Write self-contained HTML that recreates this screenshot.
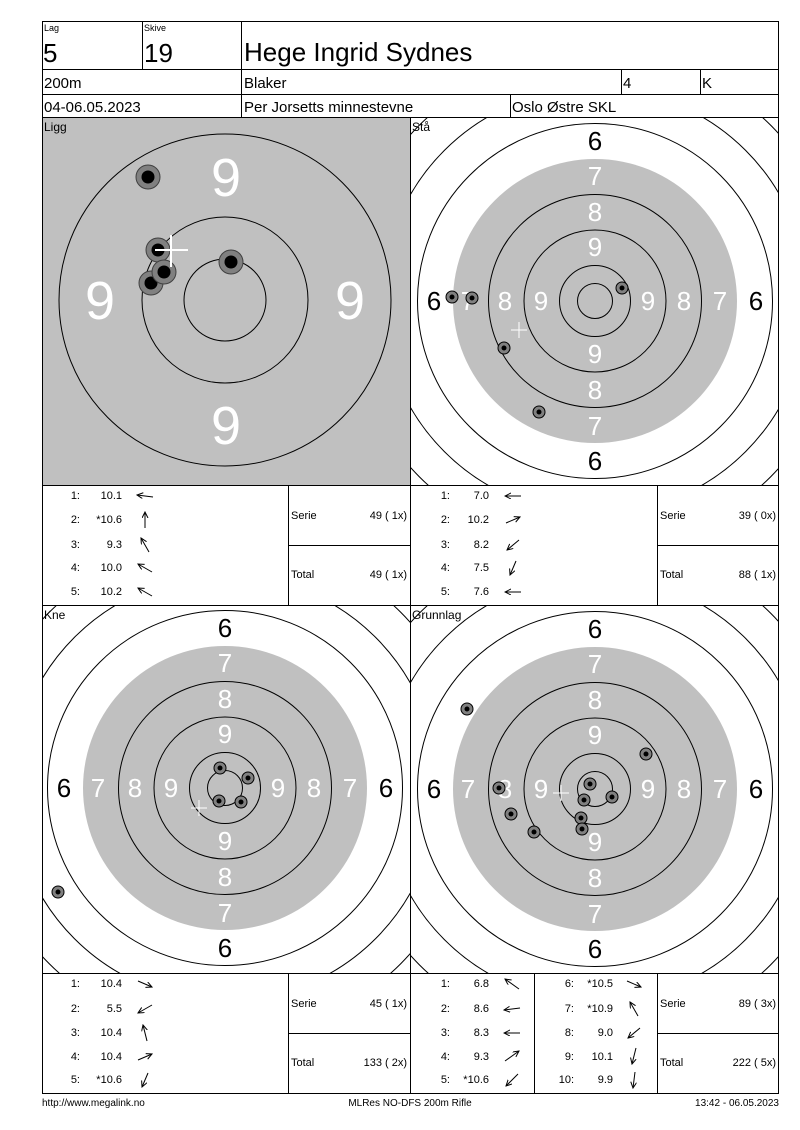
<!DOCTYPE html>
<html><head><meta charset="utf-8"><style>
html,body{margin:0;padding:0;background:#fff;}
svg{display:block;font-family:"Liberation Sans",Arial,sans-serif;}
</style></head><body>
<svg width="800" height="1130" viewBox="0 0 800 1130" xmlns="http://www.w3.org/2000/svg">
<defs>
<clipPath id="c1"><rect x="43" y="118" width="367" height="367"/></clipPath>
<clipPath id="c2"><rect x="411" y="118" width="368" height="367"/></clipPath>
<clipPath id="c3"><rect x="43" y="606" width="367" height="367"/></clipPath>
<clipPath id="c4"><rect x="411" y="606" width="368" height="367"/></clipPath>
<marker id="ah" markerWidth="7" markerHeight="7" refX="6" refY="3" orient="auto" markerUnits="userSpaceOnUse"><path d="M0,0 L6,3 L0,6" fill="none" stroke="#000" stroke-width="1"/></marker>
<g id="tg">
<circle r="248.5" fill="none" stroke="#000"/>
<circle r="213" fill="none" stroke="#000"/>
<circle r="177.5" fill="none" stroke="#000"/>
<circle r="142" fill="#c0c0c0"/>
<circle r="106.5" fill="none" stroke="#000"/>
<circle r="71" fill="none" stroke="#000"/>
<circle r="35.5" fill="none" stroke="#000"/>
<circle r="17.5" fill="none" stroke="#000"/>
<g font-size="26" text-anchor="middle" dominant-baseline="central">
<text x="0" y="-160">6</text><text x="0" y="160">6</text><text x="-161" y="0">6</text><text x="161" y="0">6</text>
<g fill="#fff"><text x="0" y="-125">7</text><text x="0" y="125">7</text><text x="-127" y="0">7</text><text x="125" y="0">7</text>
<text x="0" y="-89">8</text><text x="0" y="89">8</text><text x="-90" y="0">8</text><text x="89" y="0">8</text>
<text x="0" y="-54">9</text><text x="0" y="53">9</text><text x="-54" y="0">9</text><text x="53" y="0">9</text></g>
</g>
</g>
<g id="sh"><circle r="6" fill="#808080" stroke="#000"/><circle r="2.5" fill="#000"/></g>
<g id="lsh"><circle r="12" fill="#808080" stroke="#404040"/><circle r="6.5" fill="#000"/></g>
</defs>

<!-- Ligg -->
<g clip-path="url(#c1)">
<rect x="43" y="118" width="367" height="367" fill="#c0c0c0"/>
<g fill="none" stroke="#000"><circle cx="225" cy="300" r="166"/><circle cx="225" cy="300" r="83"/><circle cx="225" cy="300" r="41"/></g>
<g font-size="54" fill="#fff" text-anchor="middle" dominant-baseline="central">
<text x="226" y="178">9</text><text x="226" y="426">9</text><text x="100" y="301">9</text><text x="350" y="301">9</text></g>
<use href="#lsh" x="148" y="177"/><use href="#lsh" x="158" y="250"/><use href="#lsh" x="151" y="283"/><use href="#lsh" x="164" y="272"/><use href="#lsh" x="231" y="262"/>
<g stroke="#fff" stroke-width="2"><line x1="155" y1="250" x2="188" y2="250"/><line x1="171" y1="235" x2="171" y2="267"/></g>
</g>
<text x="44" y="131" font-size="12">Ligg</text>

<!-- Stå -->
<g clip-path="url(#c2)"><use href="#tg" x="595" y="301"/>
<use href="#sh" x="452" y="297"/><use href="#sh" x="472" y="298"/><use href="#sh" x="504" y="348"/><use href="#sh" x="539" y="412"/><use href="#sh" x="622" y="288"/>
<g stroke="#fff"><line x1="511" y1="330" x2="527" y2="330"/><line x1="519" y1="322" x2="519" y2="338"/></g>
</g>
<text x="412" y="131" font-size="12">Stå</text>

<!-- Kne -->
<g clip-path="url(#c3)"><use href="#tg" x="225" y="788"/>
<use href="#sh" x="220" y="768"/><use href="#sh" x="248" y="778"/><use href="#sh" x="219" y="801"/><use href="#sh" x="241" y="802"/><use href="#sh" x="58" y="892"/>
<g stroke="#fff"><line x1="191" y1="808" x2="207" y2="808"/><line x1="199" y1="800" x2="199" y2="816"/></g>
</g>
<text x="44" y="619" font-size="12">Kne</text>

<!-- Grunnlag -->
<g clip-path="url(#c4)"><use href="#tg" x="595" y="789"/>
<use href="#sh" x="467" y="709"/><use href="#sh" x="499" y="788"/><use href="#sh" x="511" y="814"/><use href="#sh" x="534" y="832"/><use href="#sh" x="590" y="784"/><use href="#sh" x="584" y="800"/><use href="#sh" x="612" y="797"/><use href="#sh" x="581" y="818"/><use href="#sh" x="582" y="829"/><use href="#sh" x="646" y="754"/>
<g stroke="#fff"><line x1="553" y1="793" x2="569" y2="793"/><line x1="561" y1="785" x2="561" y2="801"/></g>
</g>
<text x="412" y="619" font-size="12">Grunnlag</text>

<!-- grid lines -->
<g stroke="#000" stroke-width="1" fill="none" shape-rendering="crispEdges">
<rect x="42.5" y="21.5" width="736" height="1072"/>
<line x1="42" y1="69.5" x2="779" y2="69.5"/>
<line x1="42" y1="94.5" x2="779" y2="94.5"/>
<line x1="42" y1="117.5" x2="779" y2="117.5"/>
<line x1="142.5" y1="21" x2="142.5" y2="69"/>
<line x1="241.5" y1="21" x2="241.5" y2="117"/>
<line x1="621.5" y1="69" x2="621.5" y2="94"/>
<line x1="700.5" y1="69" x2="700.5" y2="94"/>
<line x1="510.5" y1="94" x2="510.5" y2="117"/>
<line x1="410.5" y1="117" x2="410.5" y2="1093"/>
<line x1="42" y1="485.5" x2="779" y2="485.5"/>
<line x1="42" y1="605.5" x2="779" y2="605.5"/>
<line x1="42" y1="973.5" x2="779" y2="973.5"/>
<line x1="288.5" y1="485" x2="288.5" y2="605"/>
<line x1="657.5" y1="485" x2="657.5" y2="605"/>
<line x1="288" y1="545.5" x2="410" y2="545.5"/>
<line x1="657" y1="545.5" x2="779" y2="545.5"/>
<line x1="288.5" y1="973" x2="288.5" y2="1093"/>
<line x1="534.5" y1="973" x2="534.5" y2="1093"/>
<line x1="657.5" y1="973" x2="657.5" y2="1093"/>
<line x1="288" y1="1033.5" x2="410" y2="1033.5"/>
<line x1="657" y1="1033.5" x2="779" y2="1033.5"/>
</g>

<!-- header text -->
<text x="44" y="31" font-size="9">Lag</text>
<text x="144" y="31" font-size="9">Skive</text>
<text x="43" y="62" font-size="26">5</text>
<text x="144" y="62" font-size="26">19</text>
<text x="244" y="61" font-size="26">Hege Ingrid Sydnes</text>
<g font-size="15">
<text x="44" y="88">200m</text><text x="244" y="88">Blaker</text><text x="623" y="88">4</text><text x="702" y="88">K</text>
<text x="44" y="112">04-06.05.2023</text><text x="244" y="112">Per Jorsetts minnestevne</text><text x="512" y="112">Oslo Østre SKL</text>
</g>

<!-- tables -->
<g font-size="11" dominant-baseline="central">
<g text-anchor="end">
<text x="80" y="496">1:</text><text x="80" y="520">2:</text><text x="80" y="545">3:</text><text x="80" y="568">4:</text><text x="80" y="592">5:</text>
<text x="122" y="496">10.1</text><text x="122" y="520">*10.6</text><text x="122" y="545">9.3</text><text x="122" y="568">10.0</text><text x="122" y="592">10.2</text>
<text x="450" y="496">1:</text><text x="450" y="520">2:</text><text x="450" y="545">3:</text><text x="450" y="568">4:</text><text x="450" y="592">5:</text>
<text x="489" y="496">7.0</text><text x="489" y="520">10.2</text><text x="489" y="545">8.2</text><text x="489" y="568">7.5</text><text x="489" y="592">7.6</text>
<text x="80" y="984">1:</text><text x="80" y="1009">2:</text><text x="80" y="1033">3:</text><text x="80" y="1057">4:</text><text x="80" y="1080">5:</text>
<text x="122" y="984">10.4</text><text x="122" y="1009">5.5</text><text x="122" y="1033">10.4</text><text x="122" y="1057">10.4</text><text x="122" y="1080">*10.6</text>
<text x="450" y="984">1:</text><text x="450" y="1009">2:</text><text x="450" y="1033">3:</text><text x="450" y="1057">4:</text><text x="450" y="1080">5:</text>
<text x="489" y="984">6.8</text><text x="489" y="1009">8.6</text><text x="489" y="1033">8.3</text><text x="489" y="1057">9.3</text><text x="489" y="1080">*10.6</text>
<text x="574" y="984">6:</text><text x="574" y="1009">7:</text><text x="574" y="1033">8:</text><text x="574" y="1057">9:</text><text x="574" y="1080">10:</text>
<text x="613" y="984">*10.5</text><text x="613" y="1009">*10.9</text><text x="613" y="1033">9.0</text><text x="613" y="1057">10.1</text><text x="613" y="1080">9.9</text>
<text x="407" y="516">49 ( 1x)</text><text x="407" y="575">49 ( 1x)</text>
<text x="776" y="516">39 ( 0x)</text><text x="776" y="575">88 ( 1x)</text>
<text x="407" y="1004">45 ( 1x)</text><text x="407" y="1063">133 ( 2x)</text>
<text x="776" y="1004">89 ( 3x)</text><text x="776" y="1063">222 ( 5x)</text>
</g>
<text x="291" y="516">Serie</text><text x="291" y="575">Total</text>
<text x="660" y="516">Serie</text><text x="660" y="575">Total</text>
<text x="291" y="1004">Serie</text><text x="291" y="1063">Total</text>
<text x="660" y="1004">Serie</text><text x="660" y="1063">Total</text>
</g>

<!-- arrows -->
<g stroke="#000" stroke-width="1" marker-end="url(#ah)">
<line x1="153" y1="497" x2="137" y2="495"/>
<line x1="145" y1="528" x2="145" y2="512"/>
<line x1="149" y1="552" x2="141" y2="538"/>
<line x1="152" y1="572" x2="138" y2="564"/>
<line x1="152" y1="596" x2="138" y2="588"/>
<line x1="521" y1="496" x2="505" y2="496"/>
<line x1="506" y1="523" x2="520" y2="517"/>
<line x1="519" y1="540" x2="507" y2="550"/>
<line x1="516" y1="561" x2="510" y2="575"/>
<line x1="521" y1="592" x2="505" y2="592"/>
<line x1="138" y1="981" x2="152" y2="987"/>
<line x1="152" y1="1005" x2="138" y2="1013"/>
<line x1="147" y1="1041" x2="143" y2="1025"/>
<line x1="138" y1="1060" x2="152" y2="1054"/>
<line x1="148" y1="1073" x2="142" y2="1087"/>
<line x1="519" y1="989" x2="505" y2="979"/>
<line x1="520" y1="1008" x2="504" y2="1010"/>
<line x1="520" y1="1033" x2="504" y2="1033"/>
<line x1="505" y1="1061" x2="519" y2="1051"/>
<line x1="518" y1="1074" x2="506" y2="1086"/>
<line x1="627" y1="981" x2="641" y2="987"/>
<line x1="638" y1="1016" x2="630" y2="1002"/>
<line x1="640" y1="1028" x2="628" y2="1038"/>
<line x1="636" y1="1048" x2="632" y2="1064"/>
<line x1="635" y1="1072" x2="633" y2="1088"/>
</g>

<!-- footer -->
<g font-size="10">
<text x="42" y="1106">http://www.megalink.no</text>
<text x="410" y="1106" text-anchor="middle">MLRes NO-DFS 200m Rifle</text>
<text x="779" y="1106" text-anchor="end">13:42 - 06.05.2023</text>
</g>
</svg>
</body></html>
